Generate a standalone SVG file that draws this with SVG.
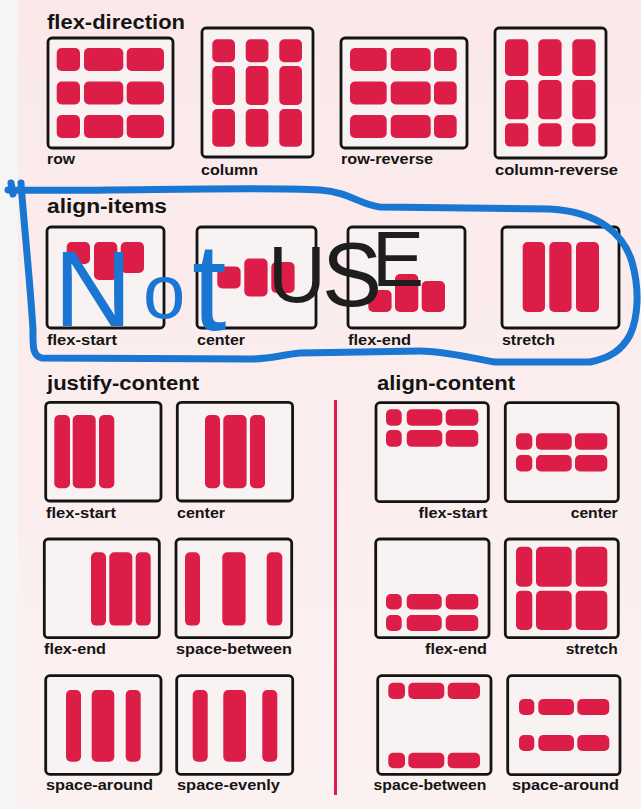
<svg xmlns="http://www.w3.org/2000/svg" width="641" height="809" viewBox="0 0 641 809">
<defs>
<linearGradient id="bg" x1="0" y1="0" x2="0" y2="1">
<stop offset="0" stop-color="#fbe9ea"/>
<stop offset="1" stop-color="#fcf1f1"/>
</linearGradient>
<style>
.bx{fill:#f8f2f2;stroke:#141414;stroke-width:2.8}
.it{fill:#dc1d48}
.t{font-family:"Liberation Sans",Arial,sans-serif;font-weight:700;fill:#141414}
.lb{font-size:15px}
.ti{font-size:20px}
.loop{fill:none;stroke:#1976d2;stroke-width:7;stroke-linecap:round;stroke-linejoin:round}
.hw{font-family:"Liberation Sans",Arial,sans-serif;font-weight:400}
</style>
</defs>
<rect x="0" y="0" width="641" height="809" fill="#f6f5f5"/>
<rect x="18" y="0" width="623" height="809" fill="url(#bg)"/>

<!-- flex-direction -->
<g id="flex-direction">
<text class="t ti" x="47" y="29" textLength="138" lengthAdjust="spacingAndGlyphs">flex-direction</text>
<g id="fd-row">
<rect class="bx" x="48" y="38" width="125" height="110" rx="4"/>
<rect class="it" x="56.7" y="48" width="23.3" height="23" rx="5"/>
<rect class="it" x="84" y="48" width="39.3" height="23" rx="5"/>
<rect class="it" x="126.7" y="48" width="37.3" height="23" rx="5"/>
<rect class="it" x="56.7" y="81.5" width="23.3" height="23" rx="5"/>
<rect class="it" x="84" y="81.5" width="39.3" height="23" rx="5"/>
<rect class="it" x="126.7" y="81.5" width="37.3" height="23" rx="5"/>
<rect class="it" x="56.7" y="115" width="23.3" height="23" rx="5"/>
<rect class="it" x="84" y="115" width="39.3" height="23" rx="5"/>
<rect class="it" x="126.7" y="115" width="37.3" height="23" rx="5"/>
<text class="t lb" x="47" y="164" textLength="28" lengthAdjust="spacingAndGlyphs">row</text>
</g>
<g id="fd-column">
<rect class="bx" x="202" y="28" width="111" height="129" rx="4"/>
<rect class="it" x="212.3" y="39.3" width="22.7" height="23" rx="5"/>
<rect class="it" x="245.7" y="39.3" width="22.7" height="23" rx="5"/>
<rect class="it" x="279.3" y="39.3" width="22.7" height="23" rx="5"/>
<rect class="it" x="212.3" y="66" width="22.7" height="39" rx="5"/>
<rect class="it" x="245.7" y="66" width="22.7" height="39" rx="5"/>
<rect class="it" x="279.3" y="66" width="22.7" height="39" rx="5"/>
<rect class="it" x="212.3" y="109" width="22.7" height="37.7" rx="5"/>
<rect class="it" x="245.7" y="109" width="22.7" height="37.7" rx="5"/>
<rect class="it" x="279.3" y="109" width="22.7" height="37.7" rx="5"/>
<text class="t lb" x="201" y="175" textLength="57" lengthAdjust="spacingAndGlyphs">column</text>
</g>
<g id="fd-row-reverse">
<rect class="bx" x="341" y="38" width="126" height="110" rx="4"/>
<rect class="it" x="350" y="48" width="36.7" height="23" rx="5"/>
<rect class="it" x="390.7" y="48" width="40" height="23" rx="5"/>
<rect class="it" x="434" y="48" width="22.7" height="23" rx="5"/>
<rect class="it" x="350" y="81.5" width="36.7" height="23" rx="5"/>
<rect class="it" x="390.7" y="81.5" width="40" height="23" rx="5"/>
<rect class="it" x="434" y="81.5" width="22.7" height="23" rx="5"/>
<rect class="it" x="350" y="115" width="36.7" height="23" rx="5"/>
<rect class="it" x="390.7" y="115" width="40" height="23" rx="5"/>
<rect class="it" x="434" y="115" width="22.7" height="23" rx="5"/>
<text class="t lb" x="341" y="164" textLength="92" lengthAdjust="spacingAndGlyphs">row-reverse</text>
</g>
<g id="fd-column-reverse">
<rect class="bx" x="495" y="28" width="111" height="130" rx="4"/>
<rect class="it" x="505" y="39.3" width="23.3" height="36.7" rx="5"/>
<rect class="it" x="538.3" y="39.3" width="23.3" height="36.7" rx="5"/>
<rect class="it" x="572.3" y="39.3" width="23.3" height="36.7" rx="5"/>
<rect class="it" x="505" y="80" width="23.3" height="39.3" rx="5"/>
<rect class="it" x="538.3" y="80" width="23.3" height="39.3" rx="5"/>
<rect class="it" x="572.3" y="80" width="23.3" height="39.3" rx="5"/>
<rect class="it" x="505" y="123.3" width="23.3" height="23.3" rx="5"/>
<rect class="it" x="538.3" y="123.3" width="23.3" height="23.3" rx="5"/>
<rect class="it" x="572.3" y="123.3" width="23.3" height="23.3" rx="5"/>
<text class="t lb" x="495" y="175" textLength="123" lengthAdjust="spacingAndGlyphs">column-reverse</text>
</g>
</g>

<!-- align-items -->
<g id="align-items">
<text class="t ti" x="47" y="213" textLength="120" lengthAdjust="spacingAndGlyphs">align-items</text>
<g id="ai-flex-start">
<rect class="bx" x="47" y="227" width="117" height="101" rx="4"/>
<rect class="it" x="66.7" y="242" width="23.3" height="22" rx="5"/>
<rect class="it" x="94" y="242" width="23.3" height="38" rx="5"/>
<rect class="it" x="120.7" y="242" width="23.3" height="31" rx="5"/>
<text class="t lb" x="47" y="345" textLength="70" lengthAdjust="spacingAndGlyphs">flex-start</text>
</g>
<g id="ai-center">
<rect class="bx" x="197" y="227" width="119" height="101" rx="4"/>
<rect class="it" x="217.3" y="266.5" width="23.3" height="22" rx="5"/>
<rect class="it" x="244.3" y="258.5" width="23.3" height="38" rx="5"/>
<rect class="it" x="271.3" y="262" width="23.3" height="31" rx="5"/>
<text class="t lb" x="197" y="345" textLength="48" lengthAdjust="spacingAndGlyphs">center</text>
</g>
<g id="ai-flex-end">
<rect class="bx" x="348" y="227" width="117" height="101" rx="4"/>
<rect class="it" x="368.3" y="290" width="23.3" height="22" rx="5"/>
<rect class="it" x="395" y="274" width="23.3" height="38" rx="5"/>
<rect class="it" x="421.7" y="281" width="23.3" height="31" rx="5"/>
<text class="t lb" x="348" y="345" textLength="63" lengthAdjust="spacingAndGlyphs">flex-end</text>
</g>
<g id="ai-stretch">
<rect class="bx" x="502" y="227" width="117" height="101" rx="4"/>
<rect class="it" x="522.7" y="242" width="22.3" height="70" rx="5"/>
<rect class="it" x="549.3" y="242" width="22.3" height="70" rx="5"/>
<rect class="it" x="576" y="242" width="23" height="70" rx="5"/>
<text class="t lb" x="502" y="345" textLength="53" lengthAdjust="spacingAndGlyphs">stretch</text>
</g>
</g>

<!-- justify-content -->
<g id="justify-content">
<text class="t ti" x="47" y="390" textLength="152" lengthAdjust="spacingAndGlyphs">justify-content</text>
<g id="jc-flex-start">
<rect class="bx" x="45.7" y="402.3" width="115.3" height="98.7" rx="4"/>
<rect class="it" x="54.3" y="415" width="15.7" height="73.3" rx="5"/>
<rect class="it" x="72.7" y="415" width="23" height="73.3" rx="5"/>
<rect class="it" x="99" y="415" width="15.3" height="73.3" rx="5"/>
<text class="t lb" x="46" y="518" textLength="70" lengthAdjust="spacingAndGlyphs">flex-start</text>
</g>
<g id="jc-center">
<rect class="bx" x="177.3" y="402.3" width="115.3" height="98.7" rx="4"/>
<rect class="it" x="205" y="415" width="15" height="73.3" rx="5"/>
<rect class="it" x="223.3" y="415" width="23.3" height="73.3" rx="5"/>
<rect class="it" x="250" y="415" width="15" height="73.3" rx="5"/>
<text class="t lb" x="177" y="518" textLength="48" lengthAdjust="spacingAndGlyphs">center</text>
</g>
<g id="jc-flex-end">
<rect class="bx" x="44.3" y="539" width="115" height="98.7" rx="4"/>
<rect class="it" x="91" y="552.3" width="15" height="73.3" rx="5"/>
<rect class="it" x="109.3" y="552.3" width="23" height="73.3" rx="5"/>
<rect class="it" x="135.7" y="552.3" width="15" height="73.3" rx="5"/>
<text class="t lb" x="44" y="654" textLength="62" lengthAdjust="spacingAndGlyphs">flex-end</text>
</g>
<g id="jc-space-between">
<rect class="bx" x="176" y="539" width="115.7" height="98.7" rx="4"/>
<rect class="it" x="185" y="552.3" width="15" height="73.3" rx="5"/>
<rect class="it" x="222.3" y="552.3" width="23.3" height="73.3" rx="5"/>
<rect class="it" x="266.7" y="552.3" width="15.6" height="73.3" rx="5"/>
<text class="t lb" x="176" y="654" textLength="116" lengthAdjust="spacingAndGlyphs">space-between</text>
</g>
<g id="jc-space-around">
<rect class="bx" x="45.7" y="675.7" width="115.3" height="98.6" rx="4"/>
<rect class="it" x="66" y="690" width="15" height="71.7" rx="5"/>
<rect class="it" x="91.7" y="690" width="22.6" height="71.7" rx="5"/>
<rect class="it" x="125.7" y="690" width="15" height="71.7" rx="5"/>
<text class="t lb" x="46" y="790" textLength="107" lengthAdjust="spacingAndGlyphs">space-around</text>
</g>
<g id="jc-space-evenly">
<rect class="bx" x="176.7" y="675.7" width="116" height="98.6" rx="4"/>
<rect class="it" x="192.7" y="690" width="15" height="71.7" rx="5"/>
<rect class="it" x="223.3" y="690" width="22.7" height="71.7" rx="5"/>
<rect class="it" x="262.3" y="690" width="15" height="71.7" rx="5"/>
<text class="t lb" x="177" y="790" textLength="103" lengthAdjust="spacingAndGlyphs">space-evenly</text>
</g>
</g>

<rect id="divider" x="334" y="400" width="3" height="395" fill="#dc1d48"/>

<!-- align-content -->
<g id="align-content">
<text class="t ti" x="377" y="390" textLength="138" lengthAdjust="spacingAndGlyphs">align-content</text>
<g id="ac-flex-start">
<rect class="bx" x="376" y="402.7" width="112.3" height="99" rx="4"/>
<rect class="it" x="386" y="409.3" width="15.7" height="16.4" rx="5"/>
<rect class="it" x="406.7" y="409.3" width="35.6" height="16.4" rx="5"/>
<rect class="it" x="445.7" y="409.3" width="32.6" height="16.4" rx="5"/>
<rect class="it" x="386" y="430" width="15.7" height="16.7" rx="5"/>
<rect class="it" x="406.7" y="430" width="35.6" height="16.7" rx="5"/>
<rect class="it" x="445.7" y="430" width="32.6" height="16.7" rx="5"/>
<text class="t lb" x="418.5" y="518" textLength="69" lengthAdjust="spacingAndGlyphs">flex-start</text>
</g>
<g id="ac-center">
<rect class="bx" x="505.3" y="402.7" width="113" height="99" rx="4"/>
<rect class="it" x="516" y="433.3" width="16.3" height="16.5" rx="5"/>
<rect class="it" x="536" y="433.3" width="35.7" height="16.5" rx="5"/>
<rect class="it" x="575" y="433.3" width="32.3" height="16.5" rx="5"/>
<rect class="it" x="516" y="455" width="16.3" height="16.5" rx="5"/>
<rect class="it" x="536" y="455" width="35.7" height="16.5" rx="5"/>
<rect class="it" x="575" y="455" width="32.3" height="16.5" rx="5"/>
<text class="t lb" x="570.7" y="518" textLength="47" lengthAdjust="spacingAndGlyphs">center</text>
</g>
<g id="ac-flex-end">
<rect class="bx" x="375.7" y="539" width="113.3" height="98.7" rx="4"/>
<rect class="it" x="386" y="594" width="15.7" height="15.5" rx="5"/>
<rect class="it" x="406.7" y="594" width="35" height="15.5" rx="5"/>
<rect class="it" x="445.7" y="594" width="32.6" height="15.5" rx="5"/>
<rect class="it" x="386" y="615" width="15.7" height="16" rx="5"/>
<rect class="it" x="406.7" y="615" width="35" height="16" rx="5"/>
<rect class="it" x="445.7" y="615" width="32.6" height="16" rx="5"/>
<text class="t lb" x="425" y="654" textLength="62" lengthAdjust="spacingAndGlyphs">flex-end</text>
</g>
<g id="ac-stretch">
<rect class="bx" x="505.3" y="539" width="113" height="98.7" rx="4"/>
<rect class="it" x="516" y="546.7" width="16.3" height="40" rx="5"/>
<rect class="it" x="536" y="546.7" width="35.7" height="40" rx="5"/>
<rect class="it" x="575.7" y="546.7" width="31.6" height="40" rx="5"/>
<rect class="it" x="516" y="590.7" width="16.3" height="39.3" rx="5"/>
<rect class="it" x="536" y="590.7" width="35.7" height="39.3" rx="5"/>
<rect class="it" x="575.7" y="590.7" width="31.6" height="39.3" rx="5"/>
<text class="t lb" x="565.7" y="654" textLength="52" lengthAdjust="spacingAndGlyphs">stretch</text>
</g>
<g id="ac-space-between">
<rect class="bx" x="377.7" y="675.7" width="113.3" height="98.6" rx="4"/>
<rect class="it" x="388.3" y="682.7" width="16.7" height="16.3" rx="5"/>
<rect class="it" x="408.3" y="682.7" width="36" height="16.3" rx="5"/>
<rect class="it" x="447.7" y="682.7" width="32.3" height="16.3" rx="5"/>
<rect class="it" x="388.3" y="752.7" width="16.7" height="15.6" rx="5"/>
<rect class="it" x="408.3" y="752.7" width="36" height="15.6" rx="5"/>
<rect class="it" x="447.7" y="752.7" width="32.3" height="15.6" rx="5"/>
<text class="t lb" x="373.5" y="790" textLength="113" lengthAdjust="spacingAndGlyphs">space-between</text>
</g>
<g id="ac-space-around">
<rect class="bx" x="507.7" y="675.7" width="112.3" height="99" rx="4"/>
<rect class="it" x="519" y="699" width="15.3" height="16" rx="5"/>
<rect class="it" x="538.3" y="699" width="35.7" height="16" rx="5"/>
<rect class="it" x="577.3" y="699" width="32" height="16" rx="5"/>
<rect class="it" x="519" y="735" width="15.3" height="16" rx="5"/>
<rect class="it" x="538.3" y="735" width="35.7" height="16" rx="5"/>
<rect class="it" x="577.3" y="735" width="32" height="16" rx="5"/>
<text class="t lb" x="512" y="790" textLength="107" lengthAdjust="spacingAndGlyphs">space-around</text>
</g>
</g>

<g id="connectors"></g>

<!-- handwritten annotation -->
<g id="annotation">
<path class="loop" d="M 8,190 C 100,192 250,186 320,190 C 350,192 360,205 380,207 L 550,209 C 600,212 624,235 632,262 C 640,290 638,318 630,335 C 622,350 610,358 590,362 L 495,362 C 470,358 445,351 420,351 L 300,353 C 280,355 270,359 250,359 L 42,358 C 32,356 33,345 33,330 C 30,280 24,225 21,183"/>
<path class="loop" d="M 11,183 L 13,194"/>
<text class="hw" fill="#1976d2"><tspan x="54" y="326" font-size="108">N</tspan><tspan x="143" y="318" font-size="76">o</tspan><tspan x="192" y="330" font-size="124">t</tspan></text>
<text class="hw" fill="#1e1e1e"><tspan x="268" y="302" font-size="80">U</tspan><tspan x="322" y="306" font-size="90">S</tspan><tspan x="372" y="286" font-size="78">E</tspan></text>
</g>
</svg>
